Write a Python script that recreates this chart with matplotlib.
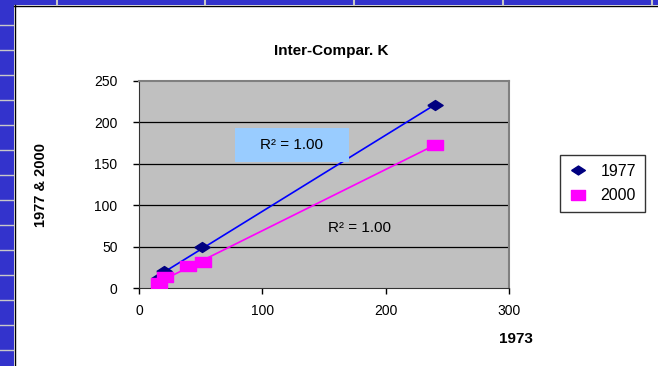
import numpy as np
import matplotlib
matplotlib.use("Agg")
import matplotlib.pyplot as plt
from matplotlib.patches import Rectangle
from matplotlib.lines import Line2D

plt.rcParams['font.family'] = ['Liberation Sans', 'DejaVu Sans']

# values
x_1977 = [16, 20, 51, 240]
y_1977 = [12, 20, 50, 221]
x_2000 = [16, 21, 40, 52, 240]
y_2000 = [6, 13, 26, 31, 173]
series_names = ["1977", "2000"]
x_ticks = [0, 100, 200, 300]
y_ticks = [0, 50, 100, 150, 200, 250]
title = "Inter-Compar. K"
x_label = "1973"
y_label = "1977 & 2000"
r2_text = "R² = 1.00"

W, H = 658.0, 366.0
fig = plt.figure(figsize=(W / 100, H / 100), dpi=100, facecolor="white")


def fx(px):
    return px / W


def fy(py):
    return 1 - py / H


# blue frame of the screenshot (left and top strips)
fig.patches.append(Rectangle((0, 0), fx(14), 1, transform=fig.transFigure,
                             facecolor="#3333CC", edgecolor="none", zorder=0))
fig.patches.append(Rectangle((0, fy(5)), 1, 5 / H, transform=fig.transFigure,
                             facecolor="#3333CC", edgecolor="none", zorder=0))
fig.lines.append(Line2D([fx(14.5), fx(14.5)], [0, fy(5)], transform=fig.transFigure,
                        color="black", lw=1))
fig.lines.append(Line2D([fx(14), 1], [fy(5.5), fy(5.5)], transform=fig.transFigure,
                        color="black", lw=1))
for yy in range(25, 366, 25):
    fig.lines.append(Line2D([0, fx(13)], [fy(yy), fy(yy)], transform=fig.transFigure,
                            color="#C8C8C8", lw=1))
for xx in [57, 205, 354, 503, 652]:
    fig.lines.append(Line2D([fx(xx), fx(xx)], [1, fy(5)], transform=fig.transFigure,
                            color="#C8C8C8", lw=1.5))

ax = fig.add_axes([fx(139), fy(288), 370 / W, 207 / H])
ax.set_facecolor("#C0C0C0")
ax.set_xlim(0, 300)
ax.set_ylim(0, 250)
ax.set_xticks(x_ticks)
ax.set_yticks(y_ticks)
ax.tick_params(direction="out", length=4.5, width=1, labelsize=10)
ax.tick_params(axis="y", pad=11)
ax.tick_params(axis="x", pad=7)
for yv in y_ticks[1:-1]:
    ax.axhline(yv, color="black", lw=0.9, zorder=1)
for side in ["top", "right"]:
    ax.spines[side].set_color("#808080")
    ax.spines[side].set_linewidth(1.5)
for side in ["left", "bottom"]:
    ax.spines[side].set_color("#333333")

diamond = [(-1, 0), (0, 0.65), (1, 0), (0, -0.65), (-1, 0)]
rect = [(-1, -0.7), (1, -0.7), (1, 0.7), (-1, 0.7), (-1, -0.7)]

# linear trendlines
for xs, ys, col in [(x_1977, y_1977, "#0000FF"), (x_2000, y_2000, "#FF00FF")]:
    k, b = np.polyfit(xs, ys, 1)
    xx = np.array([min(xs), max(xs)])
    ax.plot(xx, k * xx + b, color=col, lw=1.2, zorder=3)

ax.plot(x_1977, y_1977, ls="none", marker=diamond, ms=11, color="#000080",
        mec="#000080", label=series_names[0], zorder=4)
ax.plot(x_2000, y_2000, ls="none", marker=rect, ms=11, color="#FF00FF",
        mec="#FF00FF", label=series_names[1], zorder=4)

# R² labels
fig.patches.append(Rectangle((fx(235), fy(162)), 114 / W, 34 / H, transform=fig.transFigure,
                             facecolor="#99CCFF", edgecolor="none", zorder=5))
fig.text(fx(292), fy(145), r2_text, fontsize=11, ha="center", va="center", zorder=6)
fig.text(fx(360), fy(228), r2_text, fontsize=11, ha="center", va="center", zorder=6)

fig.text(fx(331), fy(51), title, fontsize=11, fontweight="bold", ha="center", va="center")
fig.text(fx(516), fy(339), x_label, fontsize=11, fontweight="bold", ha="center", va="center")
fig.text(fx(41), fy(185), y_label, fontsize=10.5, fontweight="bold", rotation=90,
         ha="center", va="center")

leg = fig.legend(loc="upper left", bbox_to_anchor=(fx(560), fy(155)), fontsize=11.5,
                 frameon=True, fancybox=False, edgecolor="black", handlelength=1.2,
                 handletextpad=0.8, borderpad=0.55, labelspacing=0.6, borderaxespad=0,
                 markerscale=0.9)
leg.get_frame().set_linewidth(1)

fig.savefig("out.png", dpi=100, facecolor="white")
